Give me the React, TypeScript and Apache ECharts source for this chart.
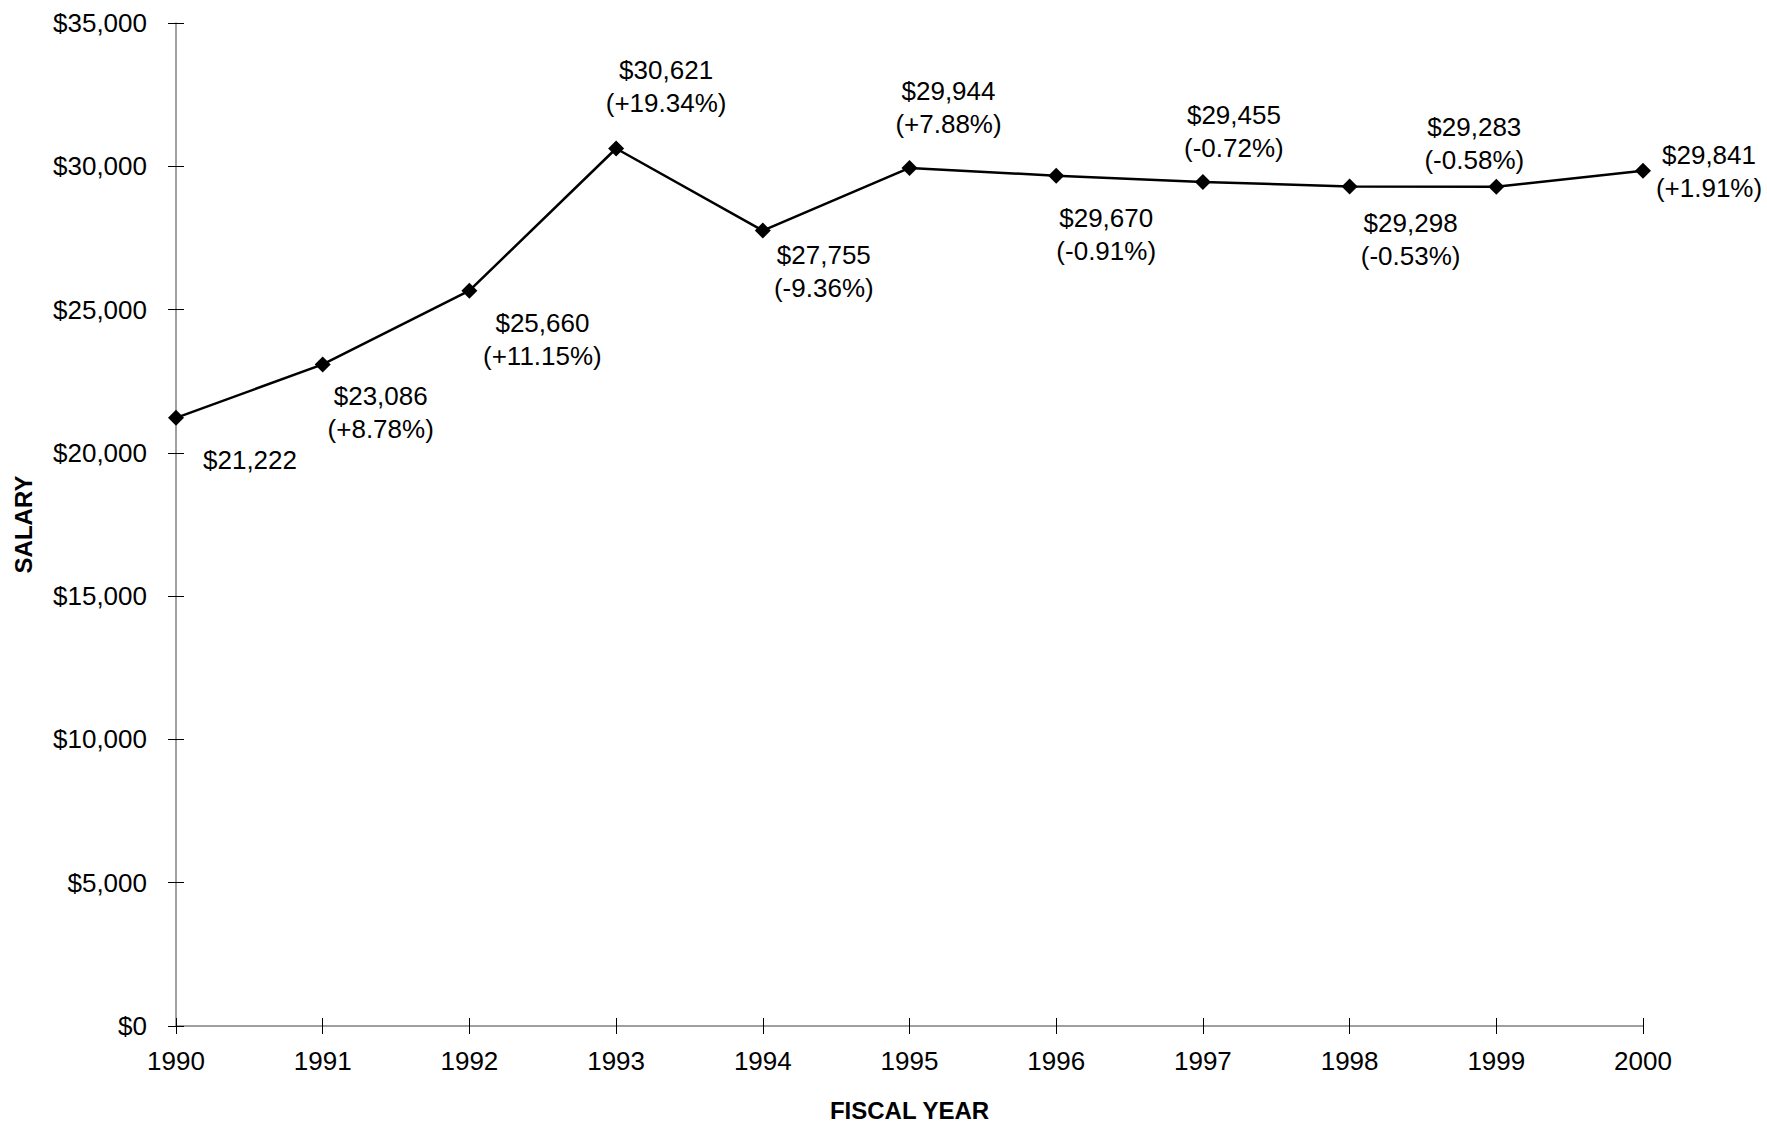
import React, { useEffect, useRef } from "react";
import * as echarts from "echarts";

const years = ["1990", "1991", "1992", "1993", "1994", "1995", "1996", "1997", "1998", "1999", "2000"];
const salaries = [21222, 23086, 25660, 30621, 27755, 29944, 29670, 29455, 29298, 29283, 29841];
const changes = ["", "+8.78%", "+11.15%", "+19.34%", "-9.36%", "+7.88%", "-0.91%", "-0.72%", "-0.53%", "-0.58%", "+1.91%"];
const labelOffsets = [
  [74, 42], [58, 48], [73, 49], [50, -62], [61, 41], [39, -60],
  [50, 59], [31, -50], [61, 53], [-22, -43], [66, 1],
];
const yMin = 0;
const yMax = 35000;
const yStep = 5000;

const FONT = "'Liberation Sans', Arial, sans-serif";

const fmtMoney = (v: number) => "$" + v.toLocaleString("en-US");

export default function App() {
  const ref = useRef<HTMLDivElement>(null);
  useEffect(() => {
    document.body.style.margin = "0";
    const chart = echarts.init(ref.current!, undefined, { renderer: "svg" });
    const data = salaries.map((v, i) => ({
      value: v,
      label: {
        show: true,
        position: "inside",
        offset: labelOffsets[i],
        align: "center",
        verticalAlign: "middle",
        formatter: () => (changes[i] ? `${fmtMoney(v)}\n(${changes[i]})` : fmtMoney(v)),
      },
    }));
    const axisTextStyle = { color: "#000", fontFamily: FONT, fontSize: 26 };
    chart.setOption({
      animation: false,
      backgroundColor: "#fff",
      grid: { left: 176, right: 124, top: 23, bottom: 96, containLabel: false },
      xAxis: [
        {
          type: "category",
          data: years,
          boundaryGap: false,
          name: "FISCAL YEAR",
          nameLocation: "middle",
          nameGap: 72,
          nameTextStyle: { color: "#000", fontFamily: FONT, fontSize: 24, fontWeight: "bold" },
          axisLine: { show: true, lineStyle: { color: "#808080", width: 1.5 } },
          axisTick: { show: true, length: 8, inside: false, lineStyle: { color: "#000", width: 1 } },
          axisLabel: { ...axisTextStyle, margin: 22 },
          splitLine: { show: false },
        },
        {
          type: "category",
          data: years,
          boundaryGap: false,
          position: "bottom",
          axisLine: { show: false },
          axisTick: { show: true, length: 8, inside: true, lineStyle: { color: "#000", width: 1 } },
          axisLabel: { show: false },
          splitLine: { show: false },
        },
      ],
      yAxis: [
        {
          type: "value",
          min: yMin,
          max: yMax,
          interval: yStep,
          name: "SALARY",
          nameLocation: "middle",
          nameGap: 141,
          nameRotate: 90,
          nameTextStyle: { color: "#000", fontFamily: FONT, fontSize: 24, fontWeight: "bold" },
          axisLine: { show: true, lineStyle: { color: "#808080", width: 1.5 } },
          axisTick: { show: true, length: 8, inside: false, lineStyle: { color: "#000", width: 1 } },
          axisLabel: { ...axisTextStyle, margin: 29, formatter: (v: number) => fmtMoney(v) },
          splitLine: { show: false },
        },
        {
          type: "value",
          min: yMin,
          max: yMax,
          interval: yStep,
          position: "left",
          axisLine: { show: false },
          axisTick: { show: true, length: 8, inside: true, lineStyle: { color: "#000", width: 1 } },
          axisLabel: { show: false },
          splitLine: { show: false },
        },
      ],
      series: [
        {
          type: "line",
          data,
          xAxisIndex: 0,
          yAxisIndex: 0,
          symbol: "diamond",
          symbolSize: 16,
          showAllSymbol: true,
          lineStyle: { color: "#000", width: 2.5 },
          itemStyle: { color: "#000" },
          label: {
            color: "#000",
            fontFamily: FONT,
            fontSize: 26,
            lineHeight: 33,
          },
          z: 5,
        },
      ],
    });
    return () => chart.dispose();
  }, []);
  return (
    <div
      ref={ref}
      style={{ position: "fixed", left: 0, top: 0, width: 1767, height: 1127, background: "#fff" }}
    />
  );
}
